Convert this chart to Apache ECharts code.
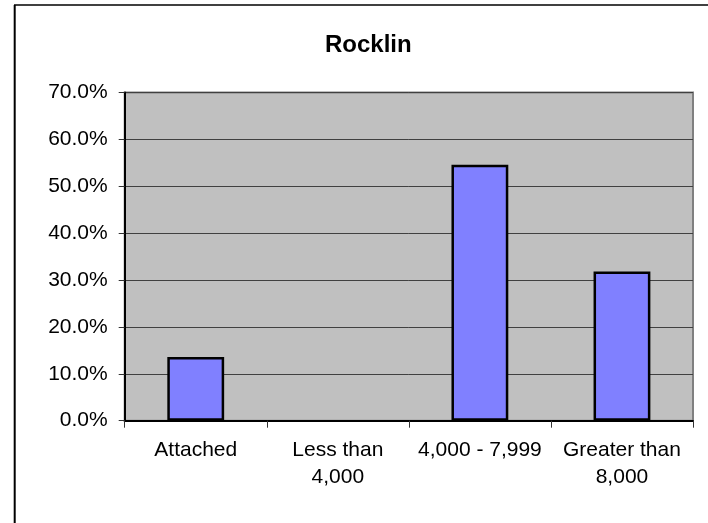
<!DOCTYPE html>
<html>
<head>
<meta charset="utf-8">
<script src="https://cdn.jsdelivr.net/npm/echarts@6/dist/echarts.min.js"></script>
<style>
html,body{margin:0;padding:0;background:#fff;}
#chart{width:708px;height:523px;}
</style>
</head>
<body>
<div id="chart"></div>
<script>
var titleText = 'Rocklin';
var categories = ['Attached', 'Less than\n4,000', '4,000 - 7,999', 'Greater than\n8,000'];
var values = [0.136, 0, 0.546, 0.318];
var yTicks = [0, 0.1, 0.2, 0.3, 0.4, 0.5, 0.6, 0.7];

var chart = echarts.init(document.getElementById('chart'), null, {renderer: 'canvas'});
var font = 'Liberation Sans, Arial, sans-serif';
var barData = values.map(function (v) {
  return v === 0 ? {value: v, itemStyle: {borderWidth: 0, opacity: 0}} : {value: v};
});
chart.setOption({
  animation: false,
  backgroundColor: '#ffffff',
  title: {
    text: titleText,
    left: 325,
    top: 33,
    padding: 0,
    textStyle: {fontFamily: font, fontSize: 24, fontWeight: 'bold', color: '#000'}
  },
  grid: {
    left: 124.7, top: 92.5, width: 568.3, height: 328.2,
    show: true, backgroundColor: '#C0C0C0', borderColor: '#808080', borderWidth: 2,
    containLabel: false
  },
  xAxis: {
    type: 'category',
    data: categories,
    axisLine: {show: true, lineStyle: {color: '#000', width: 2}},
    axisTick: {show: true, length: 7, lineStyle: {color: '#333', width: 1}},
    axisLabel: {
      interval: 0, margin: 16, color: '#000',
      fontFamily: font, fontSize: 21, lineHeight: 27
    },
    splitLine: {show: false}
  },
  yAxis: {
    type: 'value',
    min: yTicks[0],
    max: yTicks[yTicks.length - 1],
    interval: 0.1,
    axisLine: {show: true, lineStyle: {color: '#000', width: 2}},
    axisTick: {show: true, length: 6, lineStyle: {color: '#333', width: 1}},
    axisLabel: {
      margin: 17, color: '#000', fontFamily: font, fontSize: 21,
      formatter: function (v) { return (v * 100).toFixed(1) + '%'; }
    },
    splitLine: {show: true, lineStyle: {color: '#404040', width: 1}}
  },
  series: [{
    type: 'bar',
    data: barData,
    barWidth: '40%',
    itemStyle: {color: '#8080FF', borderColor: '#000', borderWidth: 2.5}
  }],
  graphic: [
    {type: 'line', shape: {x1: 14.7, y1: 5, x2: 14.7, y2: 523}, style: {stroke: '#000', lineWidth: 2}, z: 100},
    {type: 'line', shape: {x1: 14, y1: 5, x2: 708, y2: 5}, style: {stroke: '#000', lineWidth: 1.5}, z: 100}
  ]
});
</script>
</body>
</html>
